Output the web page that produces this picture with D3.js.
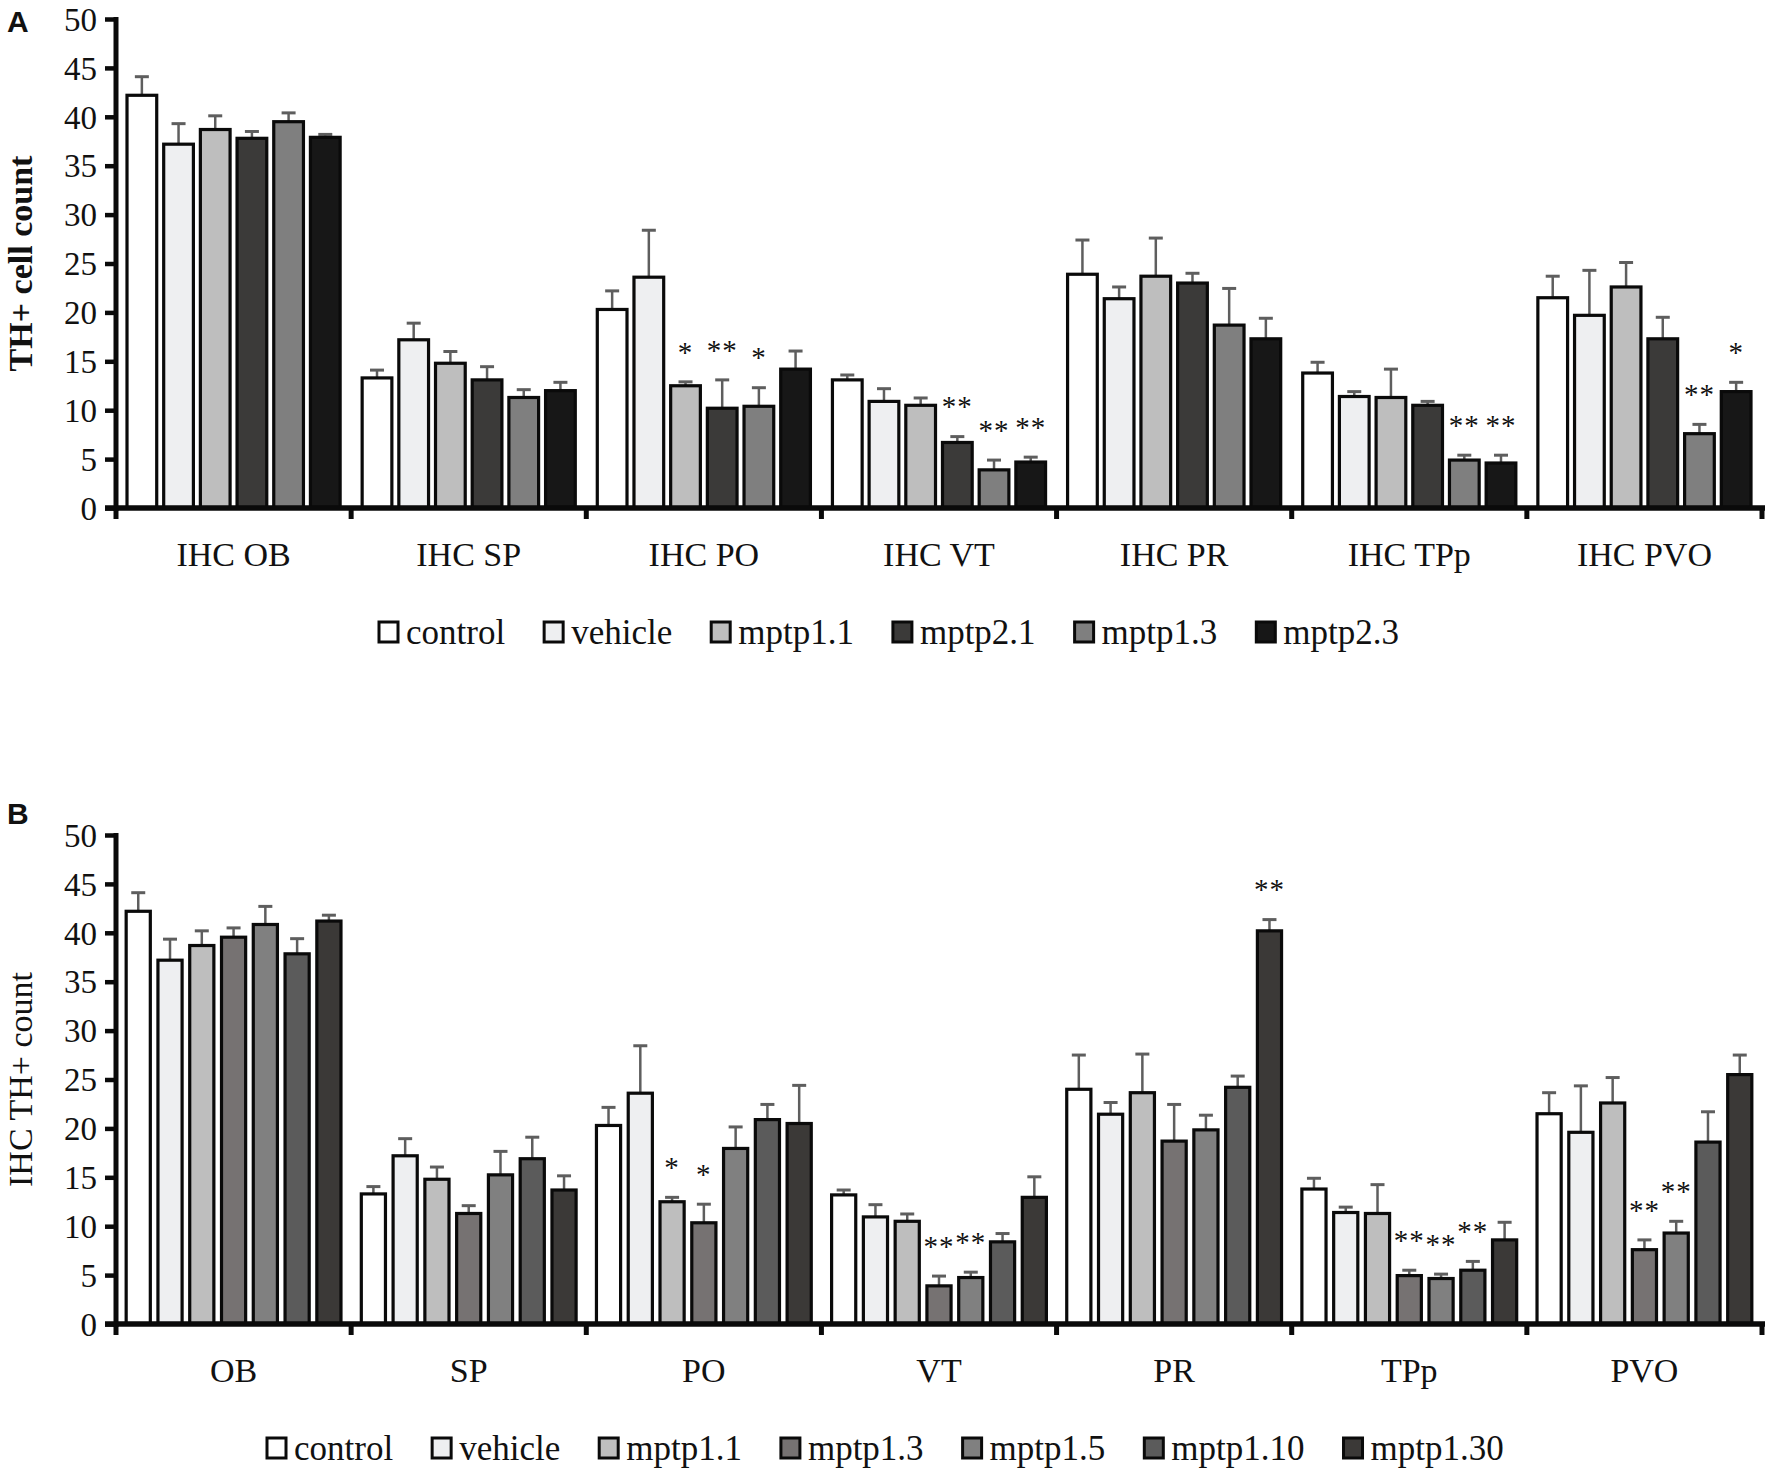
<!DOCTYPE html>
<html>
<head>
<meta charset="utf-8">
<script src="https://cdn.jsdelivr.net/npm/d3@7"></script>
<style>
  body { margin: 0; background: #fff; }
  svg { display: block; }
  text { font-family: "Liberation Serif", "Times New Roman", serif; fill: #111; }
  .panel-letter { font-family: "Liberation Sans", Arial, sans-serif; font-weight: bold; font-size: 30px; }
</style>
</head>
<body>
<svg id="chart"></svg>
<script>
// figure size
var W = 1772, H = 1474;

// ---- data, panel A ----
var regionsA = ["IHC OB", "IHC SP", "IHC PO", "IHC VT", "IHC PR", "IHC TPp", "IHC PVO"];
var groupsA = ["control", "vehicle", "mptp1.1", "mptp2.1", "mptp1.3", "mptp2.3"];
var coloursA = ["#ffffff", "#eeeff1", "#bebebe", "#3b3a39", "#7f7f7f", "#171717"];
// one row per group, one value per region
var meansA = [
  [42.2, 13.3, 20.3, 13.1, 23.9, 13.8, 21.5],
  [37.2, 17.2, 23.6, 10.9, 21.4, 11.4, 19.7],
  [38.7, 14.8, 12.5, 10.5, 23.7, 11.3, 22.6],
  [37.8, 13.1, 10.2, 6.7, 23.0, 10.5, 17.3],
  [39.5, 11.3, 10.4, 3.9, 18.7, 4.9, 7.6],
  [37.9, 12.0, 14.2, 4.7, 17.3, 4.6, 11.9]
];
var semA = [
  [1.9, 0.8, 1.9, 0.5, 3.5, 1.1, 2.2],
  [2.1, 1.7, 4.8, 1.3, 1.2, 0.5, 4.6],
  [1.4, 1.2, 0.4, 0.75, 3.9, 2.9, 2.5],
  [0.7, 1.35, 2.9, 0.6, 1.0, 0.4, 2.2],
  [0.9, 0.8, 1.9, 1.0, 3.75, 0.5, 0.95],
  [0.3, 0.85, 1.85, 0.5, 2.1, 0.8, 0.95]
];
var starsA = [
  ["", "", "", "", "", "", ""],
  ["", "", "", "", "", "", ""],
  ["", "", "*", "", "", "", ""],
  ["", "", "**", "**", "", "", ""],
  ["", "", "*", "**", "", "**", "**"],
  ["", "", "", "**", "", "**", "*"]
];

// ---- data, panel B ----
var regionsB = ["OB", "SP", "PO", "VT", "PR", "TPp", "PVO"];
var groupsB = ["control", "vehicle", "mptp1.1", "mptp1.3", "mptp1.5", "mptp1.10", "mptp1.30"];
var coloursB = ["#ffffff", "#eeeff1", "#bebebe", "#767272", "#808080", "#5b5b5b", "#3b3937"];
var meansB = [
  [42.2, 13.3, 20.3, 13.2, 24.0, 13.8, 21.5],
  [37.2, 17.2, 23.6, 10.95, 21.45, 11.4, 19.6],
  [38.7, 14.8, 12.5, 10.5, 23.65, 11.3, 22.6],
  [39.55, 11.3, 10.35, 3.9, 18.7, 4.95, 7.6],
  [40.85, 15.25, 17.95, 4.75, 19.85, 4.65, 9.3],
  [37.85, 16.9, 20.9, 8.4, 24.2, 5.5, 18.6],
  [41.2, 13.7, 20.5, 12.95, 40.2, 8.6, 25.5]
];
var semB = [
  [1.9, 0.75, 1.85, 0.5, 3.5, 1.1, 2.15],
  [2.15, 1.75, 4.85, 1.25, 1.2, 0.55, 4.75],
  [1.5, 1.25, 0.45, 0.75, 3.95, 2.95, 2.6],
  [0.95, 0.8, 1.9, 1.0, 3.75, 0.55, 1.0],
  [1.85, 2.4, 2.2, 0.55, 1.5, 0.45, 1.2],
  [1.55, 2.2, 1.55, 0.85, 1.15, 0.9, 3.1],
  [0.6, 1.45, 3.9, 2.1, 1.15, 1.8, 2.0]
];
var starsB = [
  ["", "", "", "", "", "", ""],
  ["", "", "", "", "", "", ""],
  ["", "", "*", "", "", "", ""],
  ["", "", "*", "**", "", "**", "**"],
  ["", "", "", "**", "", "**", "**"],
  ["", "", "", "", "", "**", ""],
  ["", "", "", "", "**", "", ""]
];

var yTicks = [0, 5, 10, 15, 20, 25, 30, 35, 40, 45, 50];

var svg = d3.select("#chart").attr("width", W).attr("height", H);

var AXIS_X = 116, AXIS_END = 1762;

function drawPanel(opt) {
  var g = svg.append("g");

  var y = d3.scaleLinear().domain([0, 50]).range([opt.y0, opt.y50]);
  var x0 = d3.scaleBand().domain(opt.regions).range([AXIS_X, AXIS_END]);
  var x1 = d3.scaleBand().domain(opt.groups)
      .range([0, x0.bandwidth()])
      .paddingInner(opt.padIn).paddingOuter(opt.padOut);

  // bars, error bars, stars
  opt.groups.forEach(function(grp, gi) {
    var rows = opt.regions.map(function(r, ri) {
      return { region: r, mean: opt.means[gi][ri], sem: opt.sem[gi][ri], star: opt.stars[gi][ri] };
    });
    var sg = g.append("g");
    var cx = function(d) { return x0(d.region) + x1(grp) + x1.bandwidth() / 2; };

    sg.selectAll("line.err").data(rows).enter().append("line")
      .attr("x1", cx).attr("x2", cx)
      .attr("y1", function(d) { return y(d.mean); })
      .attr("y2", function(d) { return y(d.mean + d.sem); })
      .attr("stroke", "#5e5e5e").attr("stroke-width", 2.5);
    sg.selectAll("line.cap").data(rows).enter().append("line")
      .attr("x1", function(d) { return cx(d) - 7; })
      .attr("x2", function(d) { return cx(d) + 7; })
      .attr("y1", function(d) { return y(d.mean + d.sem); })
      .attr("y2", function(d) { return y(d.mean + d.sem); })
      .attr("stroke", "#5e5e5e").attr("stroke-width", 3);

    sg.selectAll("rect").data(rows).enter().append("rect")
      .attr("x", function(d) { return x0(d.region) + x1(grp); })
      .attr("width", x1.bandwidth())
      .attr("y", function(d) { return y(d.mean); })
      .attr("height", function(d) { return y(0) - y(d.mean); })
      .attr("fill", opt.colours[gi])
      .attr("stroke", "#0a0a0a").attr("stroke-width", 3.2);

    sg.selectAll("text.star").data(rows.filter(function(d) { return d.star; }))
      .enter().append("text")
      .attr("x", cx)
      .attr("y", function(d) { return y(d.mean + d.sem + 3.6) + 15; })
      .attr("text-anchor", "middle")
      .style("font-size", "29px")
      .style("letter-spacing", "1px")
      .text(function(d) { return d.star; });
  });

  // y axis
  var yAxis = d3.axisLeft(y).tickValues(yTicks).tickSize(11).tickPadding(8)
      .tickFormat(d3.format("d"));
  var ya = g.append("g").attr("transform", "translate(" + AXIS_X + ",0)").call(yAxis);
  ya.select(".domain").remove();
  ya.selectAll(".tick line").attr("stroke", "#0a0a0a").attr("stroke-width", 4.5);
  ya.selectAll(".tick text").style("font-family", "Liberation Serif, serif")
    .style("font-size", "33px").attr("fill", "#111").attr("dy", "0.34em");
  g.append("line")
    .attr("x1", AXIS_X).attr("x2", AXIS_X)
    .attr("y1", y(50) - 2).attr("y2", y(0) + 3)
    .attr("stroke", "#0a0a0a").attr("stroke-width", 5);

  // x axis with ticks at category boundaries
  g.append("line")
    .attr("x1", AXIS_X - 11).attr("x2", AXIS_END + 3)
    .attr("y1", y(0)).attr("y2", y(0))
    .attr("stroke", "#0a0a0a").attr("stroke-width", 5.5);
  var bounds = opt.regions.map(function(r) { return x0(r); }).concat([AXIS_END]);
  g.selectAll("line.xt").data(bounds).enter().append("line")
    .attr("x1", function(d) { return d; }).attr("x2", function(d) { return d; })
    .attr("y1", y(0)).attr("y2", y(0) + 11)
    .attr("stroke", "#0a0a0a").attr("stroke-width", 5);
  g.selectAll("text.xl").data(opt.regions).enter().append("text")
    .attr("x", function(d) { return x0(d) + x0.bandwidth() / 2; })
    .attr("y", y(0) + 58)
    .attr("text-anchor", "middle")
    .style("font-size", "34px")
    .text(function(d) { return d; });

  // y title
  g.append("text")
    .attr("transform", "translate(" + opt.titleX + "," + ((y(0) + y(50)) / 2 + opt.titleDy) + ") rotate(-90)")
    .attr("text-anchor", "middle")
    .style("font-size", "34px")
    .style("font-weight", opt.titleBold ? "bold" : "normal")
    .text(opt.title);

  // panel letter
  g.append("text").attr("class", "panel-letter")
    .attr("x", 7).attr("y", opt.letterY).text(opt.letter);

  // legend
  var lg = g.append("g");
  var lx = opt.legendX;
  opt.groups.forEach(function(grp, gi) {
    lg.append("rect")
      .attr("x", lx + 2).attr("y", opt.legendY - 10)
      .attr("width", 19).attr("height", 20)
      .attr("fill", opt.colours[gi])
      .attr("stroke", "#0a0a0a").attr("stroke-width", 3);
    var t = lg.append("text")
      .attr("x", lx + 29).attr("y", opt.legendY + 12)
      .style("font-size", "35px")
      .text(grp);
    lx += 29 + t.node().getComputedTextLength() + 37;
  });
}

drawPanel({
  regions: regionsA, groups: groupsA, colours: coloursA,
  means: meansA, sem: semA, stars: starsA,
  y0: 508, y50: 19, padIn: 0.19, padOut: 0.3,
  title: "TH+ cell count", titleBold: true, titleX: 32, titleDy: 0,
  letter: "A", letterY: 32,
  legendX: 377, legendY: 632
});

drawPanel({
  regions: regionsB, groups: groupsB, colours: coloursB,
  means: meansB, sem: semB, stars: starsB,
  y0: 1324, y50: 835, padIn: 0.24, padOut: 0.32,
  title: "IHC TH+ count", titleBold: false, titleX: 32, titleDy: 0,
  letter: "B", letterY: 824,
  legendX: 265, legendY: 1448
});
</script>
</body>
</html>
